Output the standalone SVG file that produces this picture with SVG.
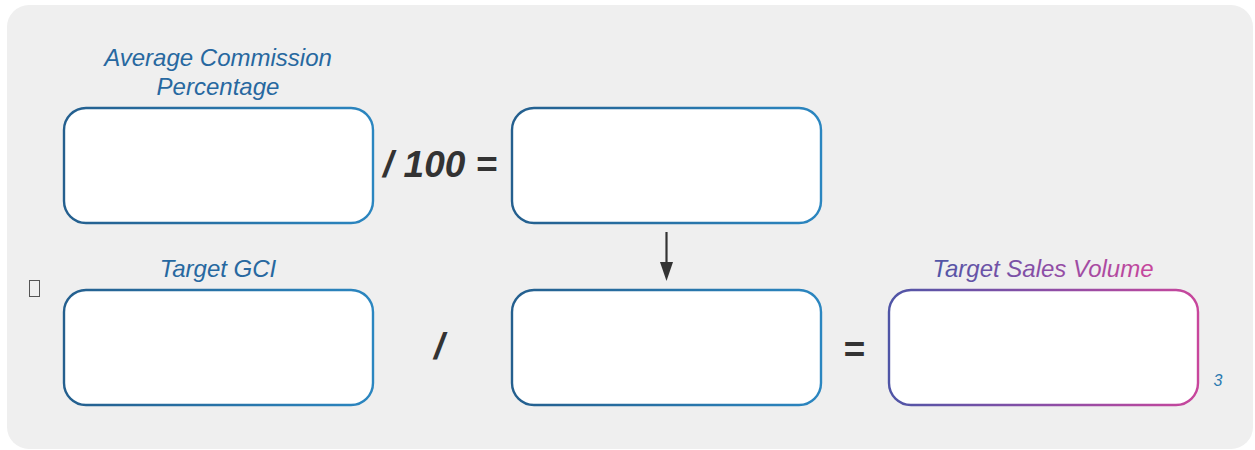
<svg xmlns="http://www.w3.org/2000/svg" width="1255" height="450" viewBox="0 0 1255 450">
<defs>
<linearGradient id="gBlue" x1="0" y1="0" x2="1" y2="0">
<stop offset="0" stop-color="#245f8e"/>
<stop offset="1" stop-color="#2b86c0"/>
</linearGradient>
<linearGradient id="gPurple" x1="0" y1="0" x2="1" y2="0">
<stop offset="0" stop-color="#4f55a6"/>
<stop offset="0.5" stop-color="#8a4ea6"/>
<stop offset="1" stop-color="#c8469c"/>
</linearGradient>
<marker id="arr" markerWidth="20" markerHeight="14" refX="2" refY="7" orient="auto" markerUnits="userSpaceOnUse" viewBox="0 0 20 14">
<path d="M0,0.5 L19,7 L0,13.5 Z" fill="#333"/>
</marker>
</defs>
<style>
.box{fill:#fff;stroke-width:2.4}
.blue{stroke:url(#gBlue)}
.purple{stroke:url(#gPurple)}
.lbl{font-family:"Liberation Sans",Arial,sans-serif;font-style:italic;font-size:24px;text-anchor:middle}
.op{font-family:"Liberation Sans",Arial,sans-serif;font-style:italic;font-weight:bold;font-size:37px;fill:#333}
</style>
<rect x="7" y="5" width="1246" height="444" rx="22" fill="#efefef"/>
<g id="avgPct">
<text class="lbl" x="218" y="66" fill="#2768a0">Average Commission</text>
<text class="lbl" x="218" y="95" fill="#2768a0">Percentage</text>
<rect class="box blue" x="64" y="108" width="309" height="115" rx="22"/>
</g>
<g id="div100">
<text class="op" x="383" y="177">/ 100 =</text>
</g>
<g id="decimal">
<rect class="box blue" x="512" y="108" width="309" height="115" rx="22"/>
</g>
<g id="tofu">
<rect x="29.5" y="280.5" width="10" height="16" fill="none" stroke="#555" stroke-width="1"/>
</g>
<g id="targetGCI">
<text class="lbl" x="218" y="277" fill="#2768a0">Target GCI</text>
<rect class="box blue" x="64" y="290" width="309" height="115" rx="22"/>
</g>
<g id="divOp">
<text class="op" x="434" y="359">/</text>
</g>
<g id="divisor">
<rect class="box blue" x="512" y="290" width="309" height="115" rx="22"/>
</g>
<g id="eqOp">
<text class="op" x="843" y="362">=</text>
</g>
<g id="targetSales">
<text class="lbl" x="1043" y="277" fill="url(#gPurple)">Target Sales Volume</text>
<rect class="box purple" x="889" y="290" width="309" height="115" rx="22"/>
<text x="1218" y="386" font-family="Liberation Sans,Arial,sans-serif" font-style="italic" font-size="16" fill="#2a7ab0" text-anchor="middle">3</text>
</g>
<g id="connectors">
<line x1="666.5" y1="232" x2="666.5" y2="264" stroke="#333" stroke-width="2.2" marker-end="url(#arr)"/>
</g>
</svg>
